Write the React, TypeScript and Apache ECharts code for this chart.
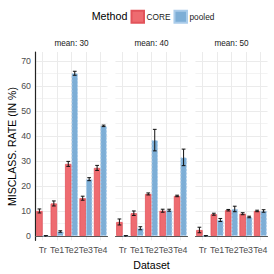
import React, { useEffect, useRef } from "react";
import * as echarts from "echarts";

const categories = ["Tr", "Te1", "Te2", "Te3", "Te4"];
const panels = ["mean: 30", "mean: 40", "mean: 50"];
const methods = ["CORE", "pooled"];
const yTicks = [0, 10, 20, 30, 40, 50, 60, 70];
const yMinor = [5, 15, 25, 35, 45, 55, 65];

// values per panel [Tr, Te1, Te2, Te3, Te4]
const coreMean = [
  [10.0, 13.0, 28.8, 15.1, 27.2],
  [5.6, 9.1, 16.8, 10.1, 16.0],
  [2.4, 8.7, 10.3, 8.9, 10.0],
];
const coreErr = [
  [0.8, 1.0, 1.0, 0.8, 1.0],
  [1.2, 0.9, 0.4, 0.6, 0.3],
  [1.1, 0.4, 0.3, 0.4, 0.3],
];
const pooledMean = [
  [0.1, 1.8, 65.0, 22.7, 44.0],
  [0.1, 3.1, 38.3, 10.3, 31.4],
  [0.1, 6.4, 10.8, 7.6, 10.0],
];
const pooledErr = [
  [0.0, 0.3, 0.8, 0.6, 0.3],
  [0.0, 0.6, 4.3, 0.4, 3.3],
  [0.0, 0.6, 1.1, 0.3, 0.5],
];

const FONT = "Liberation Sans";
const CORE_FILL = "#EE6B70";
const CORE_BORDER = "#E2535A";
const POOLED_FILL = "#7DAED6";
const POOLED_BORDER = "#AACCEA";
const GRID_COLOR = "#EBEBEB";

const PANEL_LEFT = [34, 114, 194];
const PANEL_W = 75;
const TOP = 52;
const BOTTOM = 240.3;
const Y_MIN = -1.72;
const Y_MAX = 73.5;

export default function App() {
  const ref = useRef<HTMLDivElement>(null);
  useEffect(() => {
    document.body.style.margin = "0";
    if (!ref.current) return;
    const chart = echarts.init(ref.current, null, { renderer: "svg" });
    const step = PANEL_W / (categories.length + 0.2);
    const grids: any[] = [];
    const xAxes: any[] = [];
    const yAxes: any[] = [];
    const series: any[] = [];
    const graphics: any[] = [];

    panels.forEach((p, i) => {
      const left = PANEL_LEFT[i] + 0.1 * step;
      const width = PANEL_W - 0.2 * step;
      grids.push({
        left,
        width,
        top: TOP,
        height: BOTTOM - TOP,
        containLabel: false,
        outerBoundsMode: "none",
      });
      xAxes.push({
        type: "category",
        gridIndex: i,
        data: categories,
        boundaryGap: true,
        axisLine: { show: true, lineStyle: { color: "#555", width: 1 } },
        axisTick: { show: false },
        splitLine: { show: false },
        axisLabel: { color: "#4D4D4D", fontSize: 8.8, fontFamily: FONT, margin: 5, interval: 0 },
      });
      xAxes.push({
        type: "value",
        gridIndex: i,
        min: 0,
        max: categories.length,
        position: "top",
        axisLine: { show: false },
        axisLabel: { show: false },
        axisTick: { show: false, customValues: categories.map((_, k) => k + 0.5) },
        splitLine: { show: true, lineStyle: { color: GRID_COLOR, width: 1 } },
      });
      yAxes.push({
        type: "value",
        gridIndex: i,
        min: Y_MIN,
        max: Y_MAX,
        position: "left",
        axisLine: { show: i === 0, lineStyle: { color: "#222", width: 1.2 } },
        axisTick: { show: false, customValues: yTicks },
        axisLabel: {
          show: i === 0,
          customValues: yTicks,
          color: "#4D4D4D",
          fontSize: 8.8,
          fontFamily: FONT,
          margin: 4.5,
        },
        splitLine: { show: true, lineStyle: { color: GRID_COLOR, width: 1 } },
      });
      yAxes.push({
        type: "value",
        gridIndex: i,
        min: Y_MIN,
        max: Y_MAX,
        position: "left",
        axisLine: { show: false },
        axisTick: { show: false, customValues: yMinor },
        axisLabel: { show: false, customValues: yMinor },
        splitLine: { show: true, lineStyle: { color: GRID_COLOR, width: 0.6 } },
      });
      const xIdx = i * 2;
      const yIdx = i * 2;
      series.push({
        type: "bar",
        name: "CORE",
        xAxisIndex: xIdx,
        yAxisIndex: yIdx,
        data: coreMean[i],
        barGap: "0%",
        barCategoryGap: "10%",
        itemStyle: { color: CORE_FILL, borderColor: CORE_BORDER, borderWidth: 0.8 },
      });
      series.push({
        type: "bar",
        name: "pooled",
        xAxisIndex: xIdx,
        yAxisIndex: yIdx,
        data: pooledMean[i],
        barGap: "0%",
        barCategoryGap: "10%",
        itemStyle: {
          color: POOLED_FILL,
          borderColor: POOLED_BORDER,
          borderWidth: 1,
          borderType: [2, 1.5],
        },
      });
      const errSeries = (means: number[], errs: number[], sign: number, nm: string) => ({
        type: "custom",
        name: nm,
        xAxisIndex: xIdx,
        yAxisIndex: yIdx,
        z: 5,
        data: means.map((m, k) => [k, m, errs[k]]),
        encode: { x: 0, y: 1 },
        renderItem: (_params: any, api: any) => {
          const ci = api.value(0);
          const v = api.value(1);
          const e = api.value(2);
          const band = api.size([1, 0])[0];
          const off = sign * band * 0.225;
          const top = api.coord([ci, v + e]);
          const bot = api.coord([ci, v - e]);
          const x = top[0] + off;
          const hw = band * 0.13;
          const st = { stroke: "#111", lineWidth: 1 };
          return {
            type: "group",
            children: [
              { type: "line", shape: { x1: x, y1: top[1], x2: x, y2: bot[1] }, style: st },
              { type: "line", shape: { x1: x - hw, y1: top[1], x2: x + hw, y2: top[1] }, style: st },
              { type: "line", shape: { x1: x - hw, y1: bot[1], x2: x + hw, y2: bot[1] }, style: st },
            ],
          };
        },
      });
      series.push(errSeries(coreMean[i], coreErr[i], -1, "errCORE"));
      series.push(errSeries(pooledMean[i], pooledErr[i], 1, "errPooled"));

      graphics.push({
        type: "text",
        x: PANEL_LEFT[i] + PANEL_W / 2,
        y: 43.7,
        style: {
          text: p,
          fill: "#1A1A1A",
          font: `8.2px "${FONT}"`,
          align: "center",
          verticalAlign: "middle",
        },
      });
    });

    graphics.push({
      type: "text",
      x: 91.7,
      y: 15.7,
      style: { text: "Method", fill: "#000", font: `10.7px "${FONT}"`, align: "left", verticalAlign: "middle" },
    });
    graphics.push({
      type: "text",
      x: 11.5,
      y: 146.5,
      rotation: Math.PI / 2,
      style: {
        text: "MISCLASS. RATE (IN %)",
        fill: "#000",
        font: `10.5px "${FONT}"`,
        align: "center",
        verticalAlign: "middle",
      },
    });
    graphics.push({
      type: "text",
      x: 151.5,
      y: 265,
      style: { text: "Dataset", fill: "#000", font: `10.6px "${FONT}"`, align: "center", verticalAlign: "middle" },
    });

    chart.setOption({
      animation: false,
      backgroundColor: "#fff",
      grid: grids,
      xAxis: xAxes,
      yAxis: yAxes,
      legend: {
        data: methods,
        left: 130.5,
        top: 9.7,
        padding: 0,
        itemWidth: 12.5,
        itemHeight: 12,
        itemGap: 3,
        icon: "rect",
        textStyle: { fontSize: 8.3, fontFamily: FONT, color: "#1A1A1A", padding: [0, 0, 0, -2.5] },
      },
      graphic: graphics,
      series,
    });
    return () => chart.dispose();
  }, []);
  return <div ref={ref} style={{ width: 274, height: 274 }} />;
}
